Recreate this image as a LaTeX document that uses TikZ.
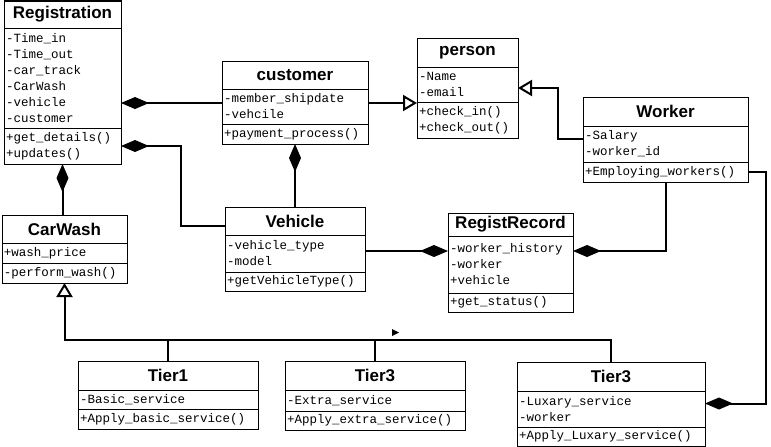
\documentclass[tikz,border=0pt]{standalone}
\usepackage{fontspec}
\newfontfamily\titlefont{Liberation Sans}
\newfontfamily\codefont{Liberation Mono}
\usetikzlibrary{arrows.meta,calc}

\begin{document}
\begin{tikzpicture}[
        x=1pt, y=-1pt,
        ctitle/.style={rectangle, draw=black, line width=1pt, anchor=north west, outer sep=0pt, inner xsep=2pt, inner ysep=0pt, align=center, font=\titlefont\bfseries\fontsize{17}{20}\selectfont},
        cpart/.style={rectangle, draw=black, line width=1pt, anchor=north west, outer sep=0pt, inner xsep=2pt, inner ysep=0pt, align=left, font=\codefont\fontsize{12.5}{16}\selectfont},
        comp/.style={arrows={Diamond[length=28pt, width=12pt]-}, line width=2pt},
        gen/.style={arrows={-Triangle[open, length=14pt, width=16pt]}, line width=2pt},
        link/.style={line width=2pt}
    ]
    \useasboundingbox (0,0) rectangle (771,447);

    % Registration
    \node[ctitle, text width=113pt, minimum height=27pt] (reg) at (4,1) {Registration};
    \node[cpart, text width=113pt, minimum height=100pt] (reg-a) at (reg.south west) {-Time\_in\\-Time\_out\\-car\_track\\-CarWash\\-vehicle\\-customer};
    \node[cpart, text width=113pt, minimum height=36pt] (reg-m) at (reg-a.south west) {+get\_details()\\+updates()};

    % customer
    \node[ctitle, text width=142pt, minimum height=28pt] (cust) at (222,61) {customer};
    \node[cpart, text width=142pt, minimum height=35pt] (cust-a) at (cust.south west) {-member\_shipdate\\-vehcile};
    \node[cpart, text width=142pt, minimum height=20pt] (cust-m) at (cust-a.south west) {+payment\_process()};

    % person
    \node[ctitle, text width=97pt, minimum height=29pt] (pers) at (417,38) {person};
    \node[cpart, text width=97pt, minimum height=35pt] (pers-a) at (pers.south west) {-Name\\-email};
    \node[cpart, text width=97pt, minimum height=36pt] (pers-m) at (pers-a.south west) {+check\_in()\\+check\_out()};

    % Worker
    \node[ctitle, text width=161pt, minimum height=29pt] (wrk) at (583,97) {Worker};
    \node[cpart, text width=161pt, minimum height=36pt] (wrk-a) at (wrk.south west) {-Salary\\-worker\_id};
    \node[cpart, text width=161pt, minimum height=20pt] (wrk-m) at (wrk-a.south west) {+Employing\_workers()};

    % CarWash
    \node[ctitle, text width=121pt, minimum height=28pt] (cw) at (2,215) {CarWash};
    \node[cpart, text width=121pt, minimum height=20pt] (cw-a) at (cw.south west) {+wash\_price};
    \node[cpart, text width=121pt, minimum height=20pt] (cw-m) at (cw-a.south west) {-perform\_wash()};

    % Vehicle
    \node[ctitle, text width=136pt, minimum height=28pt] (veh) at (225,207) {Vehicle};
    \node[cpart, text width=136pt, minimum height=37pt] (veh-a) at (veh.south west) {-vehicle\_type\\-model};
    \node[cpart, text width=136pt, minimum height=19pt] (veh-m) at (veh-a.south west) {+getVehicleType()};

    % RegistRecord
    \node[ctitle, text width=121pt, minimum height=23pt] (rr) at (448,213) {RegistRecord};
    \node[cpart, text width=121pt, minimum height=57pt] (rr-a) at (rr.south west) {-worker\_history\\-worker\\+vehicle};
    \node[cpart, text width=121pt, minimum height=19pt] (rr-m) at (rr-a.south west) {+get\_status()};

    % Tiers
    \node[ctitle, text width=176pt, minimum height=29pt] (t1) at (78,361) {Tier1};
    \node[cpart, text width=176pt, minimum height=19pt] (t1-a) at (t1.south west) {-Basic\_service};
    \node[cpart, text width=176pt, minimum height=20pt] (t1-m) at (t1-a.south west) {+Apply\_basic\_service()};

    \node[ctitle, text width=176pt, minimum height=29pt] (t3a) at (285,361) {Tier3};
    \node[cpart, text width=176pt, minimum height=21pt] (t3a-a) at (t3a.south west) {-Extra\_service};
    \node[cpart, text width=176pt, minimum height=19pt] (t3a-m) at (t3a-a.south west) {+Apply\_extra\_service()};

    \node[ctitle, text width=184pt, minimum height=29pt] (t3b) at (517,362) {Tier3};
    \node[cpart, text width=184pt, minimum height=36pt] (t3b-a) at (t3b.south west) {-Luxary\_service\\-worker};
    \node[cpart, text width=184pt, minimum height=19pt] (t3b-m) at (t3b-a.south west) {+Apply\_Luxary\_service()};

    % Compositions
    \draw[comp] ($(reg-a.east)+(0,25)$) -- ($(cust-a.west)+(0,-3.5)$);
    \draw[comp] (reg-m.east) -| ($(veh.west)+(-44,5)$) -- ($(veh.west)+(0,5)$);
    \draw[comp] (reg-m.south) -- (reg-m.south |- cw.north);
    \draw[comp] (cust-m.south) -- (cust-m.south |- veh.north);
    \draw[comp] ($(rr-a.east)+(0,-13.5)$) -| (wrk-m.south);
    \draw[comp] ($(rr-a.west)+(0,-13.5)$) -- ($(veh-a.east)+(0,-2.5)$);
    \draw[comp] ($(t3b-a.east)+(0,-5.5)$) -| ($(wrk-m.east)+(18,0)$) -- (wrk-m.east);

    % Generalizations
    \draw[gen] ($(cust-a.east)+(0,-3.5)$) -- ($(pers-a.west)+(0,18.5)$);
    \draw[gen] ($(wrk-a.west)+(0,-5)$) -| ($(pers-a.east)+(40,3.5)$) -- ($(pers-a.east)+(0,3.5)$);
    \coordinate (bus) at ($(cw-m.south)+(0,57)$);
    \draw[gen] (t3b.north) |- (bus) -- (cw-m.south);
    \draw[link] (t1.north) -- (t1.north |- bus);
    \draw[link] (t3a.north) -- (t3a.north |- bus);
    \fill (392,329) -- (399,332.5) -- (392,336) -- cycle;

\end{tikzpicture}
\end{document}
